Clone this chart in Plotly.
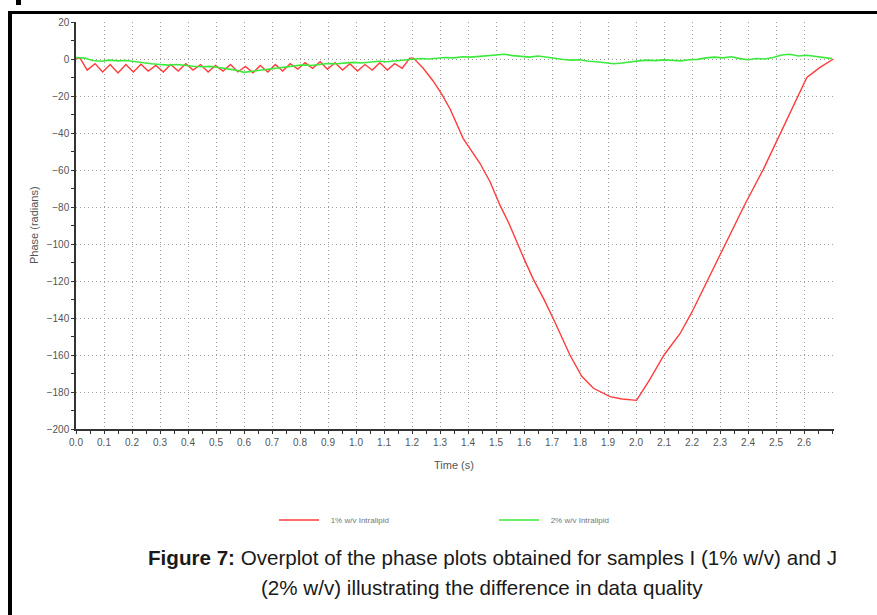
import plotly.graph_objects as go

# ---------------- data ----------------
red_t = [0.000, 0.015, 0.040, 0.068, 0.095, 0.122, 0.150, 0.178, 0.205, 0.232,
         0.258, 0.285, 0.312, 0.338, 0.365, 0.392, 0.418, 0.445, 0.472, 0.498,
         0.525, 0.552, 0.578, 0.605, 0.632, 0.658, 0.685, 0.712, 0.738, 0.765,
         0.792, 0.818, 0.845, 0.872, 0.898, 0.925, 0.952, 0.978, 1.005, 1.032,
         1.058, 1.085, 1.112, 1.138, 1.165, 1.192, 1.205,
         1.240, 1.276, 1.306, 1.336, 1.360, 1.383, 1.407, 1.443, 1.479, 1.514,
         1.545, 1.574, 1.603, 1.633, 1.670, 1.705, 1.735, 1.764, 1.806, 1.848,
         1.907, 1.950, 2.002, 2.050, 2.100, 2.157, 2.199, 2.258, 2.324, 2.389,
         2.455, 2.514, 2.574, 2.610, 2.657, 2.705]
red_v = [0.5, 0.3, -6.0, -2.5, -7.0, -3.0, -7.5, -3.0, -7.0, -2.8,
         -6.5, -3.5, -7.0, -3.0, -6.5, -2.5, -6.0, -3.0, -7.0, -3.5,
         -6.5, -3.0, -7.0, -4.0, -7.5, -3.5, -7.0, -3.0, -6.5, -2.5,
         -5.5, -2.0, -5.0, -1.5, -5.5, -2.0, -6.0, -2.5, -6.5, -3.0,
         -6.0, -2.0, -6.0, -2.5, -5.0, 0.5, 0.5,
         -5.0, -12.0, -19.0, -27.0, -35.0, -43.0, -48.5, -56.5, -66.5, -79.0,
         -88.5, -99.0, -109.0, -119.0, -129.5, -140.5, -150.5, -160.0, -171.5, -178.0,
         -182.5, -183.8, -184.5, -173.0, -160.0, -148.5, -137.0, -119.0, -98.0, -78.5,
         -59.5, -40.5, -21.5, -10.0, -4.5, 0.0]

green_t = [0.00, 0.03, 0.06, 0.09, 0.12, 0.15, 0.18, 0.21, 0.24, 0.27,
           0.30, 0.33, 0.36, 0.39, 0.42, 0.45, 0.48, 0.51, 0.54, 0.57,
           0.60, 0.63, 0.66, 0.69, 0.72, 0.75, 0.78, 0.81, 0.84, 0.87,
           0.90, 0.93, 0.96, 0.99, 1.02, 1.05, 1.08, 1.11, 1.14, 1.17,
           1.20, 1.23, 1.26, 1.29, 1.32, 1.35, 1.38, 1.41, 1.44, 1.47,
           1.50, 1.53, 1.56, 1.59, 1.62, 1.65, 1.68, 1.71, 1.74, 1.77,
           1.80, 1.83, 1.86, 1.89, 1.92, 1.95, 1.98, 2.01, 2.04, 2.07,
           2.10, 2.13, 2.16, 2.19, 2.22, 2.25, 2.28, 2.31, 2.34, 2.37,
           2.40, 2.43, 2.46, 2.49, 2.52, 2.55, 2.58, 2.61, 2.64, 2.67, 2.70]
green_v = [0.8, 0.5, -0.8, -1.2, -0.6, -1.0, -0.8, -1.5, -2.2, -2.6,
           -3.0, -3.3, -3.0, -3.6, -3.9, -4.2, -4.0, -4.6, -5.2, -6.0,
           -7.2, -6.6, -6.0, -5.4, -5.0, -4.4, -3.8, -3.2, -3.5, -2.8,
           -2.4, -2.6, -2.0, -1.8, -2.2, -1.5, -1.2, -1.5, -1.0, -0.6,
           -0.2, 0.3, 0.0, 0.4, 0.8, 0.6, 1.2, 1.0, 1.5, 2.0,
           2.4, 2.6, 1.8, 1.4, 1.0, 1.6, 0.8, 0.4, -0.3, -0.6,
           -0.4, -1.2, -1.5, -2.0, -2.6, -2.2, -1.4, -1.0, -0.6, -0.9,
           -0.5, -0.8, -1.0, -0.4, -0.2, 0.6, 1.0, 0.6, 1.2, 0.2,
           -0.4, 0.3, 0.0, 0.8, 2.2, 2.6, 1.6, 2.0, 1.4, 1.0, 0.2]

x_ticks = [0.0, 0.1, 0.2, 0.3, 0.4, 0.5, 0.6, 0.7, 0.8, 0.9, 1.0, 1.1, 1.2, 1.3,
           1.4, 1.5, 1.6, 1.7, 1.8, 1.9, 2.0, 2.1, 2.2, 2.3, 2.4, 2.5, 2.6]
x_labels = ["%.1f" % v for v in x_ticks]
y_ticks = [20, 0, -20, -40, -60, -80, -100, -120, -140, -160, -180, -200]

series_names = ["1% w/v Intralipid", "2% w/v Intralipid"]
series_colors = ["#ff3b3b", "#3bea3b"]

# ---------------- layout geometry ----------------
W, H = 877, 615
ML, MR, MT, MB = 76, 43, 22, 186
PW, PH = W - ML - MR, H - MT - MB


def px(x):
    return (x - ML) / PW


def py(y):
    return (H - MB - y) / PH


FONT = "Liberation Sans, Arial, sans-serif"
pad = "&nbsp;&nbsp;&nbsp;"

fig = go.Figure()
fig.add_trace(go.Scatter(x=red_t, y=red_v, mode="lines", name=pad + series_names[0],
                         line=dict(color=series_colors[0], width=1.4)))
fig.add_trace(go.Scatter(x=green_t, y=green_v, mode="lines", name=pad + series_names[1],
                         line=dict(color=series_colors[1], width=1.6)))

tickfont = dict(family=FONT, size=10, color="#555555")

fig.update_layout(
    width=W, height=H,
    margin=dict(l=ML, r=MR, t=MT, b=MB, pad=0),
    paper_bgcolor="white", plot_bgcolor="white",
    showlegend=True,
    legend=dict(orientation="h", x=px(274), y=py(520), xanchor="left", yanchor="middle",
                font=dict(family=FONT, size=8, color="#777777"),
                entrywidth=165, entrywidthmode="pixels", bgcolor="rgba(0,0,0,0)",
                itemwidth=40),
    xaxis=dict(range=[0, 2.707], tickvals=x_ticks, ticktext=x_labels,
               showgrid=True, gridcolor="#a0a0a0", griddash="1px,3px", gridwidth=1,
               zeroline=False, showline=True, linecolor="#333333", linewidth=1.5,
               ticks="outside", ticklen=3, tickcolor="#333333", tickfont=tickfont,
               minor=dict(dtick=0.05, tick0=0, ticks="outside", ticklen=3,
                          tickcolor="#333333", showgrid=False)),
    yaxis=dict(range=[-200, 20], tickvals=y_ticks,
               showgrid=True, gridcolor="#a0a0a0", griddash="1px,3px", gridwidth=1,
               zeroline=False, showline=True, linecolor="#333333", linewidth=1.5,
               ticks="outside", ticklen=3, tickcolor="#333333", tickfont=tickfont,
               minor=dict(dtick=10, tick0=0, ticks="outside", ticklen=3,
                          tickcolor="#333333", showgrid=False)),
)

# axis titles
fig.add_annotation(text="Time (s)", x=px(454), y=py(465), xref="paper", yref="paper",
                   showarrow=False, xanchor="center", yanchor="middle",
                   font=dict(family=FONT, size=11, color="#555555"))
fig.add_annotation(text="Phase (radians)", x=px(34), y=py(225), xref="paper", yref="paper",
                   showarrow=False, xanchor="center", yanchor="middle", textangle=-90,
                   font=dict(family=FONT, size=11, color="#555555"))

# caption
capfont = dict(family=FONT, size=20.6, color="#1a1a1a")
fig.add_annotation(text="<b>Figure 7:</b> Overplot of the phase plots obtained for samples I (1% w/v) and J",
                   x=px(492), y=py(557), xref="paper", yref="paper", showarrow=False,
                   xanchor="center", yanchor="middle", font=capfont)
fig.add_annotation(text="(2% w/v) illustrating the difference in data quality",
                   x=px(482), y=py(587), xref="paper", yref="paper", showarrow=False,
                   xanchor="center", yanchor="middle", font=capfont)

# page frame lines
fig.add_shape(type="rect", xref="paper", yref="paper", x0=px(8), x1=px(877), y0=py(14), y1=py(11),
              fillcolor="black", line_width=0, layer="above")
fig.add_shape(type="rect", xref="paper", yref="paper", x0=px(8), x1=px(12), y0=py(615), y1=py(11),
              fillcolor="black", line_width=0, layer="above")
fig.add_shape(type="rect", xref="paper", yref="paper", x0=px(16), x1=px(21), y0=py(5), y1=py(0),
              fillcolor="black", line_width=0, layer="above")

fig.write_html("out.html")
